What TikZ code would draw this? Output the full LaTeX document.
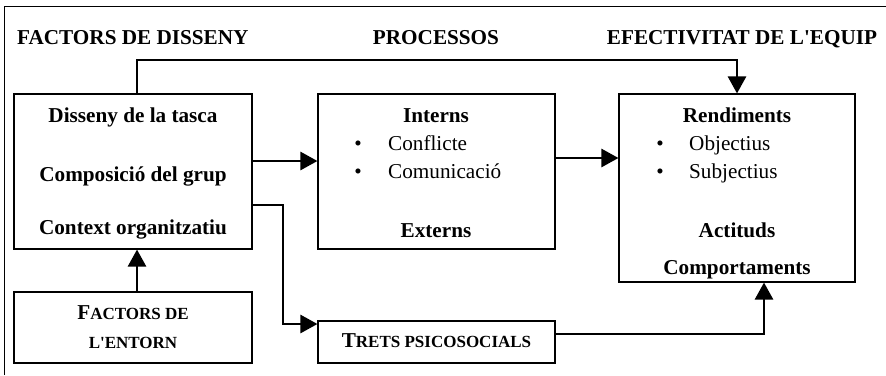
\documentclass[tikz,border=0pt]{standalone}
\usepackage{fontspec}
\setmainfont{Liberation Serif}[Ligatures=TeXOff]
\usetikzlibrary{arrows.meta}
\newcommand{\fsz}{\fontsize{21.2}{24}\selectfont}
\newcommand{\smc}{\fontsize{17}{20}\selectfont}
\tikzset{
  box/.style={draw, line width=1.1pt, inner sep=0pt},
  lbl/.style={anchor=base, inner sep=0pt, font=\fsz\bfseries},
  reg/.style={anchor=base west, inner sep=0pt, font=\fsz},
  bul/.style={anchor=base, inner sep=0pt, font=\fsz},
  arr/.style={line width=2.6pt, -{Triangle[length=17pt,width=18pt]}},
  lin/.style={line width=2.6pt}
}
\begin{document}
\begin{tikzpicture}[x=1pt,y=-1pt]
\useasboundingbox (0,0) rectangle (886,375);
\draw[line width=1pt] (4,375) -- (4,6) -- (886,6);
% headers
\node[lbl, anchor=base west] (h1) at (17,44) {FACTORS DE DISSENY};
\node[lbl] (h2) at (436,44) {PROCESSOS};
\node[lbl] (h3) at (742,44) {EFECTIVITAT DE L'EQUIP};
% boxes
\node[box, minimum width=238pt, minimum height=155pt] (b1) at (133,171.5) {};
\node[box, minimum width=237pt, minimum height=155pt] (pi) at (436.5,171.5) {};
\node[box, minimum width=236pt, minimum height=188pt] (re) at (737,188) {};
\node[box, minimum width=238pt, minimum height=71pt] (en) at (133,327.5) {};
\node[box, minimum width=237pt, minimum height=42pt] (tr) at (436.5,342) {};
% box 1 texts
\node[lbl] (t11) at (133,122) {Disseny de la tasca};
\node[lbl] (t12) at (133,181) {Composició del grup};
\node[lbl] (t13) at (133,234) {Context organitzatiu};
% processos
\node[lbl] (t21) at (436,122) {Interns};
\node[bul] (bu1) at (358,150) {•};
\node[reg] (t22) at (388,150) {Conflicte};
\node[bul] (bu2) at (358,178) {•};
\node[reg] (t23) at (388,178) {Comunicació};
\node[lbl] (t24) at (436,237) {Externs};
% rendiments
\node[lbl] (t31) at (737,122) {Rendiments};
\node[bul] (bu3) at (660,150) {•};
\node[reg] (t32) at (689,150) {Objectius};
\node[bul] (bu4) at (660,178) {•};
\node[reg] (t33) at (689,178) {Subjectius};
\node[lbl] (t34) at (737,237) {Actituds};
\node[lbl] (t35) at (737,274) {Comportaments};
% entorn
\node[lbl] (t41) at (133,319) {F{\smc ACTORS DE}};
\node[lbl] (t42) at (133,348) {{\smc L'ENTORN}};
% trets
\node[lbl] (t51) at (436.5,347) {T{\smc RETS PSICOSOCIALS}};
% connectors
\coordinate (ctop) at (137,60);
\draw[arr] (b1.north -| ctop) -- (ctop) -| (re.north);
\coordinate (c1) at (0,161);
\draw[arr] (b1.east |- c1) -- (pi.west |- c1);
\coordinate (c2) at (0,158);
\draw[arr] (pi.east |- c2) -- (re.west |- c2);
\coordinate (c3) at (283,205);
\coordinate (c4) at (0,324);
\draw[arr] (b1.east |- c3) -- (c3) |- (tr.west |- c4);
\coordinate (c5) at (137,0);
\draw[arr] (en.north -| c5) -- (b1.south -| c5);
\coordinate (c6) at (764,334);
\draw[arr] (tr.east |- c6) -- (c6) -- (re.south -| c6);
\end{tikzpicture}
\end{document}
